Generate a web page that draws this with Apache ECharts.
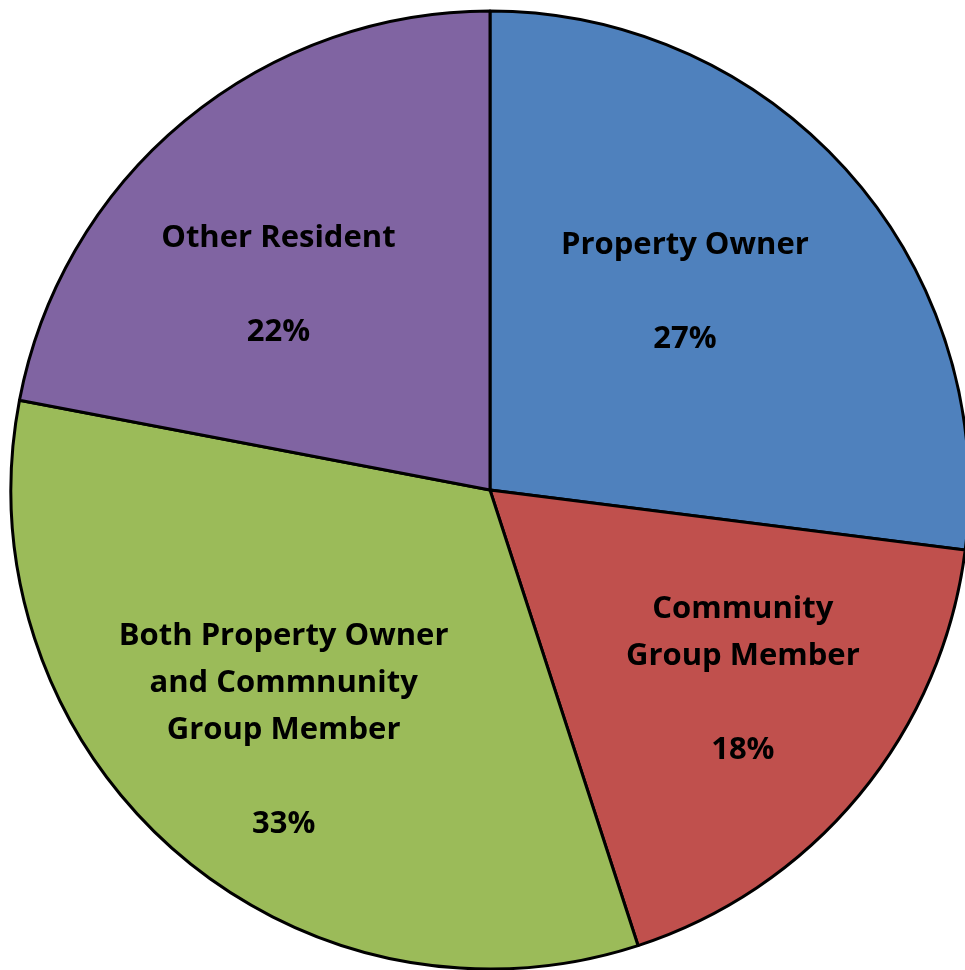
<!DOCTYPE html>
<html>
<head>
<meta charset="utf-8">
<script src="https://cdn.jsdelivr.net/npm/echarts@6/dist/echarts.min.js"></script>
<style>
  html, body { margin: 0; padding: 0; background: #ffffff; }
  #chart { width: 965px; height: 970px; }
</style>
</head>
<body>
<div id="chart"></div>
<script>
// Respondent groups, clockwise from 12 o'clock
const categories = [
  'Property Owner',
  'Community\nGroup Member',
  'Both Property Owner\nand Commnunity\nGroup Member',
  'Other Resident'
];
const shares = [27, 18, 33, 22];
const colors = ['#4F81BD', '#C0504D', '#9BBB59', '#8064A2'];
// Nudges that move each inside label away from the default mid-radius spot
const labelOffsets = [[13, -37], [66, 35], [-46, 58], [-57, -18]];

const chart = echarts.init(document.getElementById('chart'), null, { renderer: 'canvas' });

chart.setOption({
  animation: false,
  backgroundColor: '#ffffff',
  series: [{
    type: 'pie',
    center: [490, 490],
    radius: [0, 479],
    startAngle: 90,
    clockwise: true,
    avoidLabelOverlap: false,
    itemStyle: { borderColor: '#000000', borderWidth: 3 },
    emphasis: { disabled: true },
    label: {
      show: true,
      position: 'inside',
      color: '#000000',
      fontFamily: '"Open Sans", sans-serif',
      fontWeight: 'bold',
      fontSize: 31,
      lineHeight: 47,
      align: 'center',
      formatter: p => p.name + '\n\n' + p.value + '%'
    },
    labelLine: { show: false },
    data: categories.map((name, i) => ({
      name,
      value: shares[i],
      itemStyle: { color: colors[i] },
      label: { offset: labelOffsets[i] }
    }))
  }]
});
</script>
</body>
</html>
